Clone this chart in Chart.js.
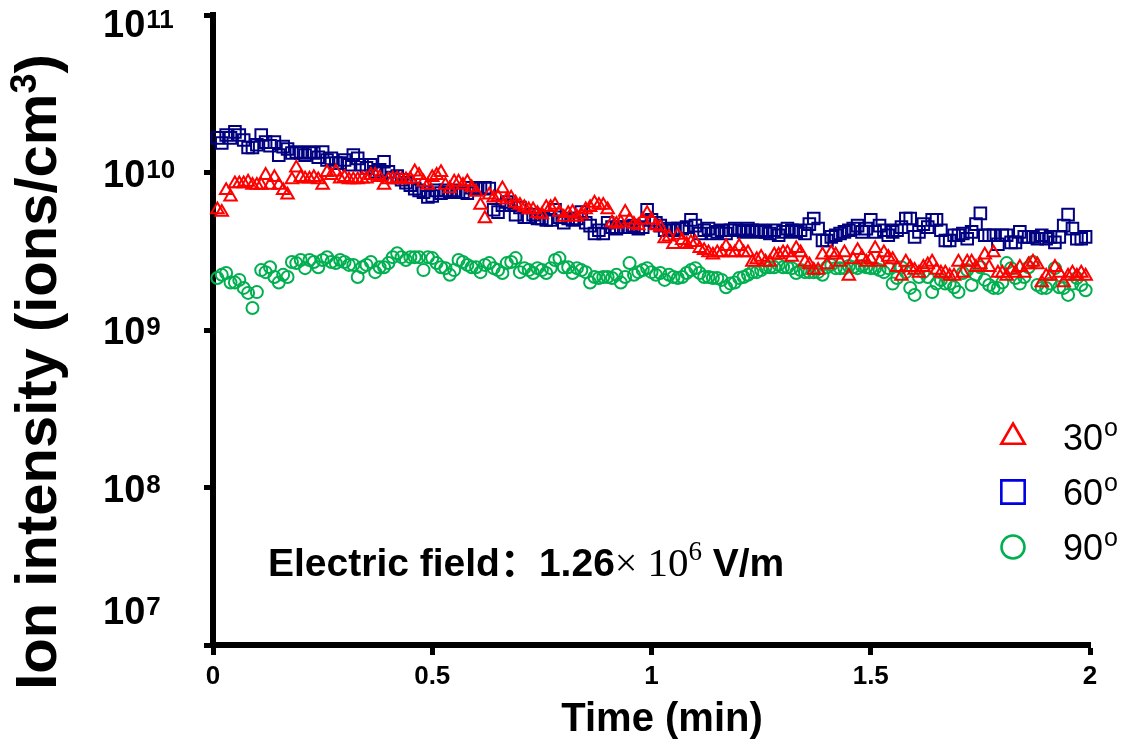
<!DOCTYPE html>
<html>
<head>
<meta charset="utf-8">
<script src="https://cdn.jsdelivr.net/npm/chart.js@4.4.0/dist/chart.umd.min.js"></script>
<style>
  html, body { margin: 0; padding: 0; background: #fff; }
  #wrap { width: 1128px; height: 745px; }
</style>
</head>
<body>
<div id="wrap"><canvas id="ionChart" width="1128" height="745"></canvas></div>
<script>
// Ion intensity vs time, three electrode angles (values in 1e9 ions/cm3)
const unit = 1e9;
const sampleStep = 0.01; // min between readings, first reading at 0.01

const xTicks = [0, 0.5, 1, 1.5, 2];
const yTicks = [1e7, 1e8, 1e9, 1e10, 1e11];
const angleLabels = ['30', '60', '90'];

const red30 = [
  5.8, 5.6, 7.7, 7.0, 8.5, 8.5, 8.5, 8.7, 8.3, 8.3,
  8.3, 9.6, 8.3, 9.3, 8.3, 7.7, 7.2, 9.0, 10.7, 9.3,
  9.1, 9.1, 9.3, 9.0, 8.3, 10.0, 9.6, 10.1, 9.1, 9.3,
  9.0, 9.0, 9.0, 9.1, 9.1, 9.6, 9.6, 9.3, 8.3, 9.0,
  9.1, 9.1, 9.0, 9.0, 9.1, 10.1, 9.6, 8.7, 8.3, 9.3,
  9.6, 10.0, 8.3, 7.9, 8.7, 8.7, 8.3, 8.7, 8.0, 7.5,
  6.2, 5.1, 7.2, 6.9, 7.0, 7.9, 6.7, 6.9, 6.4, 6.2,
  6.0, 5.8, 5.8, 5.5, 5.4, 6.0, 6.0, 6.2, 5.6, 5.2,
  5.5, 5.6, 5.2, 5.4, 5.8, 6.0, 6.4, 6.2, 6.2, 5.8,
  4.8, 4.7, 4.8, 5.6, 5.0, 4.7, 4.6, 5.0, 5.5, 5.0,
  4.6, 4.5, 3.8, 3.9, 3.5, 4.0, 3.7, 3.5, 3.6, 3.6,
  3.3, 3.2, 3.1, 3.0, 3.1, 3.1, 3.4, 3.1, 3.1, 3.4,
  3.1, 3.1, 2.7, 2.8, 2.9, 2.7, 2.7, 3.0, 3.0, 3.1,
  3.1, 2.9, 3.3, 3.1, 2.7, 2.6, 2.4, 2.4, 3.0, 2.6,
  3.1, 3.0, 2.7, 3.1, 2.2, 2.8, 3.2, 2.9, 2.7, 2.8,
  3.3, 2.7, 3.1, 2.9, 2.8, 2.5, 2.2, 2.7, 2.5, 2.4,
  2.3, 2.5, 2.6, 2.7, 2.4, 2.3, 2.3, 2.2, 2.2, 2.7,
  2.3, 2.7, 2.7, 2.5, 2.6, 3.0, 2.5, 3.1, 2.3, 2.3,
  2.2, 2.4, 2.3, 2.5, 2.3, 2.6, 2.7, 2.6, 2.0, 2.2,
  2.2, 2.5, 2.3, 2.0, 2.2, 2.3, 2.2, 2.3, 2.2
];

const blue60 = [
  16.6, 15.4, 17.3, 16.6, 18.1, 17.3, 16.1, 14.4, 14.4, 15.0,
  17.3, 15.6, 14.8, 15.6, 12.9, 14.6, 14.1, 13.3, 13.5, 13.3,
  12.9, 13.5, 13.3, 12.5, 13.5, 12.0, 12.3, 11.5, 11.5, 12.0,
  11.2, 12.9, 12.3, 11.2, 10.7, 11.2, 10.1, 10.4, 11.7, 10.1,
  9.3, 9.5, 9.0, 8.6, 8.3, 7.9, 7.7, 7.5, 7.0, 7.1,
  7.7, 7.4, 7.7, 7.5, 7.7, 7.5, 7.5, 7.4, 8.0, 7.9,
  8.0, 8.0, 7.9, 5.8, 5.6, 6.2, 6.5, 6.2, 5.4, 6.0,
  5.2, 5.2, 5.4, 5.1, 5.1, 5.0, 5.0, 5.8, 5.2, 4.8,
  5.1, 5.0, 5.1, 5.6, 4.8, 4.6, 4.1, 4.3, 4.1, 4.8,
  4.5, 4.4, 4.5, 4.5, 4.5, 4.6, 4.4, 4.5, 5.8, 5.0,
  4.8, 4.6, 4.3, 4.4, 4.3, 4.4, 4.4, 4.5, 5.0, 4.6,
  4.1, 4.3, 4.4, 4.1, 4.2, 4.3, 4.1, 4.3, 4.4, 4.3,
  4.2, 4.4, 4.3, 4.2, 4.3, 4.2, 4.1, 4.3, 4.0, 4.2,
  4.4, 4.3, 4.2, 4.3, 4.1, 4.7, 5.1, 4.4, 3.7, 3.7,
  3.9, 4.0, 4.1, 4.2, 4.3, 4.4, 4.6, 4.2, 4.4, 5.0,
  4.2, 4.6, 4.3, 4.0, 4.2, 4.3, 4.5, 5.1, 5.1, 3.9,
  4.2, 4.7, 4.5, 5.0, 5.0, 4.3, 3.7, 3.7, 4.0, 4.0,
  4.1, 3.8, 4.2, 4.7, 5.5, 4.0, 4.0, 4.0, 3.5, 4.0,
  4.0, 3.6, 3.6, 4.2, 3.9, 3.9, 3.9, 3.8, 4.0, 3.8,
  3.9, 3.6, 3.9, 4.6, 5.4, 4.4, 3.8, 3.8, 3.9
];

const green90 = [
  2.14, 2.24, 2.3, 2.0, 2.0, 2.08, 1.85, 1.72, 1.38, 1.74,
  2.4, 2.33, 2.5, 2.17, 2.0, 2.24, 2.17, 2.7, 2.66, 2.78,
  2.47, 2.78, 2.7, 2.5, 2.78, 2.9, 2.7, 2.66, 2.78, 2.7,
  2.59, 2.59, 2.17, 2.5, 2.59, 2.7, 2.33, 2.5, 2.5, 2.66,
  2.9, 3.07, 2.9, 2.78, 2.9, 2.9, 2.9, 2.4, 2.9, 2.86,
  2.66, 2.5, 2.47, 2.24, 2.4, 2.78, 2.7, 2.59, 2.5, 2.5,
  2.33, 2.59, 2.66, 2.47, 2.4, 2.3, 2.66, 2.7, 2.86, 2.33,
  2.47, 2.4, 2.3, 2.47, 2.4, 2.3, 2.47, 2.78, 2.86, 2.5,
  2.5, 2.3, 2.47, 2.4, 2.33, 2.0, 2.17, 2.14, 2.17, 2.17,
  2.14, 2.24, 2.0, 2.17, 2.66, 2.24, 2.33, 2.4, 2.47, 2.33,
  2.24, 2.3, 2.08, 2.24, 2.17, 2.14, 2.17, 2.3, 2.4, 2.47,
  2.3, 2.17, 2.17, 2.14, 2.14, 2.08, 1.87, 1.97, 2.0, 2.14,
  2.17, 2.24, 2.33, 2.33, 2.4, 2.5, 2.5, 2.5, 2.59, 2.5,
  2.5, 2.47, 2.3, 2.4, 2.33, 2.33, 2.33, 2.33, 2.24, 2.5,
  2.59, 2.47, 2.47, 2.47, 2.55, 2.5, 2.47, 2.55, 2.5, 2.47,
  2.47, 2.4, 2.33, 2.47, 1.97, 2.14, 2.5, 2.33, 1.85, 1.67,
  2.17, 2.33, 2.17, 1.74, 1.97, 2.08, 1.97, 1.97, 1.87, 1.74,
  2.3, 2.4, 1.93, 2.24, 2.5, 2.08, 1.93, 1.85, 1.85, 2.0,
  2.66, 2.47, 2.14, 1.97, 2.17, 2.5, 2.7, 1.93, 1.85, 1.85,
  1.97, 2.47, 1.87, 1.85, 1.67, 1.97, 2.14, 1.93, 1.79
];

const times = red30.map((_, i) => +((i + 1) * sampleStep).toFixed(2));

function toPoints(vals) {
  return vals.map((v, i) => ({ x: times[i], y: v * unit }));
}

const legendItems = [
  { style: 'triangle', color: '#FF0000', radius: 13.5 },
  { style: 'rect', color: '#0000E6', radius: 16.5 },
  { style: 'circle', color: '#00B050', radius: 11.5 }
];

const SANS = "'Liberation Sans', Arial, sans-serif";
const SERIF = "'Liberation Serif', 'Times New Roman', serif";

// textos sobrepostos: rótulos do eixo y com expoente, títulos, anotação e legenda
const overlay = {
  id: 'overlay',
  afterDraw(chart) {
    const ctx = chart.ctx;
    const area = chart.chartArea;
    const ys = chart.scales.y;
    ctx.save();
    ctx.fillStyle = '#000';
    ctx.textBaseline = 'alphabetic';
    ctx.textAlign = 'left';

    // y tick labels 10^n (end labels pulled inside the axis span)
    yTicks.forEach(v => {
      const p = ys.getPixelForValue(v);
      const cy = Math.min(Math.max(p, area.top + 8), area.bottom - 35);
      const base = cy + 14;
      ctx.font = 'bold 38px ' + SANS;
      ctx.fillText('10', 103, base);
      const w = ctx.measureText('10').width;
      ctx.font = 'bold 26px ' + SANS;
      ctx.fillText(String(Math.round(Math.log10(v))), 103 + w + 1, base - 9);
    });

    // y axis title
    ctx.save();
    ctx.translate(56, 372);
    ctx.rotate(-Math.PI / 2);
    const big = 'bold 58px ' + SANS, small = 'bold 36px ' + SANS;
    ctx.font = big;
    const t1 = 'Ion intensity (ions/cm', t3 = ')';
    const w1 = ctx.measureText(t1).width, w3 = ctx.measureText(t3).width;
    ctx.font = small;
    const w2 = ctx.measureText('3').width;
    let sx = -(w1 + w2 + w3) / 2;
    ctx.font = big; ctx.fillText(t1, sx, 0); sx += w1;
    ctx.font = small; ctx.fillText('3', sx, -20); sx += w2;
    ctx.font = big; ctx.fillText(t3, sx, 0);
    ctx.restore();

    // x axis title
    ctx.font = 'bold 40px ' + SANS;
    ctx.textAlign = 'center';
    ctx.fillText('Time (min)', 662, 731);
    ctx.textAlign = 'left';

    // annotation
    let ax = 268;
    const ab = 576;
    const parts = [
      ['Electric field', 'bold 39px ' + SANS, 0],
      ['\uFF1A', "bold 39px 'Noto Sans CJK SC', sans-serif", 0],
      ['1.26', 'bold 39px ' + SANS, 0],
      ['\u00D7 ', '40px ' + SERIF, 0],
      ['10', '41px ' + SERIF, 0],
      ['6', '27px ' + SERIF, -16],
      [' V/m', 'bold 39px ' + SANS, 0]
    ];
    parts.forEach(([txt, font, dy]) => {
      ctx.font = font;
      ctx.fillText(txt, ax, ab + dy);
      ax += ctx.measureText(txt).width;
    });

    // legend
    const legY = [437, 492, 547];
    legendItems.forEach((it, i) => {
      ctx.save();
      ctx.strokeStyle = it.color;
      ctx.fillStyle = 'rgba(0,0,0,0)';
      ctx.lineWidth = 2.6;
      Chart.helpers.drawPoint(ctx, { pointStyle: it.style, radius: it.radius, borderWidth: 2.6, rotation: 0 }, 1013, legY[i]);
      ctx.restore();
      ctx.font = '36px ' + SANS;
      ctx.fillText(angleLabels[i], 1063, legY[i] + 13);
      const w = ctx.measureText(angleLabels[i]).width;
      ctx.font = '25px ' + SANS;
      ctx.fillText('o', 1063 + w + 1, legY[i] - 1);
    });
    ctx.restore();
  }
};

const datasets = [
  { label: '30', data: toPoints(red30), pointStyle: 'triangle', pointRadius: 7.2, borderColor: '#FF0000' },
  { label: '60', data: toPoints(blue60), pointStyle: 'rect', pointRadius: 8.2, borderColor: '#000080' },
  { label: '90', data: toPoints(green90), pointStyle: 'circle', pointRadius: 6, borderColor: '#00B050' }
].map(d => Object.assign(d, {
  showLine: false,
  backgroundColor: 'rgba(0,0,0,0)',
  pointBackgroundColor: 'rgba(0,0,0,0)',
  pointBorderColor: d.borderColor,
  pointBorderWidth: 2,
  clip: false
}));

new Chart(document.getElementById('ionChart'), {
  type: 'scatter',
  data: { datasets },
  options: {
    responsive: false,
    devicePixelRatio: 1,
    animation: false,
    layout: { padding: { left: 0, right: 38, top: 15, bottom: 0 } },
    plugins: { legend: { display: false }, tooltip: { enabled: false } },
    scales: {
      x: {
        type: 'linear',
        min: 0,
        max: 2,
        afterBuildTicks: s => { s.ticks = xTicks.map(v => ({ value: v })); },
        afterFit: s => { s.height = 100; },
        border: { display: true, color: '#000', width: 6 },
        grid: { drawOnChartArea: false, drawTicks: true, tickLength: 10, tickWidth: 5, tickColor: '#000', color: '#000' },
        ticks: {
          color: '#000',
          padding: 6,
          maxRotation: 0,
          font: { family: SANS, size: 26, weight: 'bold' },
          callback: v => String(v)
        }
      },
      y: {
        type: 'logarithmic',
        min: 1e7,
        max: 1e11,
        afterBuildTicks: s => { s.ticks = yTicks.map(v => ({ value: v })); },
        afterFit: s => { s.width = 213; },
        border: { display: true, color: '#000', width: 6 },
        grid: { drawOnChartArea: false, drawTicks: true, tickLength: 9, tickWidth: 5, tickColor: '#000', color: '#000' },
        ticks: { callback: () => '' }
      }
    }
  },
  plugins: [overlay]
});
</script>
</body>
</html>
